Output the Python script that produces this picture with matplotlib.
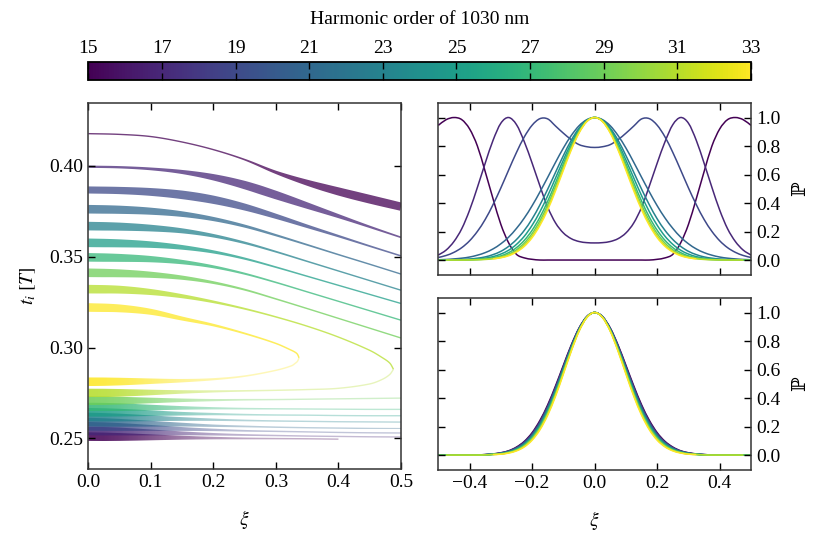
import numpy as np
import matplotlib
matplotlib.use("Agg")
import matplotlib.pyplot as plt
from matplotlib import colors
from matplotlib.patches import Polygon, PathPatch
from matplotlib.path import Path
from matplotlib.colorbar import ColorbarBase

plt.rcParams['font.family'] = ['Liberation Serif', 'DejaVu Serif']
plt.rcParams['mathtext.fontset'] = 'stix'
plt.rcParams['font.size'] = 14

harmonics = [15, 17, 19, 21, 23, 25, 27, 29, 31, 33]

# xi grid of the probability curves (right panels), mirrored for xi < 0
xi_p = [0.0, 0.025, 0.05, 0.075, 0.1, 0.125, 0.15, 0.175, 0.2, 0.225, 0.25,
        0.275, 0.3, 0.325, 0.35, 0.375, 0.4, 0.425, 0.45, 0.475, 0.5]

# long trajectories, probability (top right)
p_long_15 = [0, 0, 0, 0, 0, 0, 0, 0, 0.005, 0.015, 0.04, 0.12, 0.25, 0.43, 0.62, 0.80, 0.92, 0.985, 1.0, 0.985, 0.945]
p_long_17 = [0.12, 0.122, 0.13, 0.15, 0.19, 0.26, 0.37, 0.52, 0.68, 0.83, 0.95, 1.0, 0.96, 0.84, 0.68, 0.51, 0.35, 0.22, 0.13, 0.07, 0.035]
p_long_19 = [0.79, 0.795, 0.81, 0.845, 0.89, 0.94, 0.99, 0.992, 0.946, 0.864, 0.755, 0.632, 0.506, 0.389, 0.285, 0.201, 0.135, 0.087, 0.054, 0.032, 0.018]
p_long_21 = [1.0, 0.985, 0.942, 0.873, 0.786, 0.686, 0.581, 0.478, 0.381, 0.295, 0.222, 0.161, 0.114, 0.078, 0.052, 0.034, 0.021, 0.013, 0.008, 0.004, 0.002]
p_long_23 = [1.0, 0.981, 0.925, 0.840, 0.733, 0.616, 0.498, 0.387, 0.289, 0.208, 0.144, 0.096, 0.061, 0.038, 0.022, 0.013, 0.007, 0.004, 0.002, 0.001, 0]
p_long_25 = [1.0, 0.978, 0.916, 0.820, 0.702, 0.576, 0.452, 0.339, 0.244, 0.167, 0.110, 0.069, 0.042, 0.024, 0.013, 0.007, 0.004, 0.002, 0.001, 0, 0]
p_long_27 = [1.0, 0.976, 0.907, 0.802, 0.676, 0.542, 0.414, 0.301, 0.209, 0.138, 0.087, 0.052, 0.029, 0.016, 0.008, 0.004, 0.002, 0.001, 0, 0, 0]
p_long_29 = [1.0, 0.974, 0.900, 0.789, 0.657, 0.518, 0.388, 0.276, 0.186, 0.119, 0.072, 0.041, 0.023, 0.012, 0.006, 0.003, 0.001, 0, 0, 0, 0]
p_long_31 = [1.0, 0.973, 0.895, 0.779, 0.641, 0.499, 0.367, 0.256, 0.169, 0.105, 0.062, 0.035, 0.018, 0.009, 0.004, 0.002, 0.001, 0, 0, 0]
p_long_33 = [1.0, 0.972, 0.891, 0.771, 0.630, 0.486, 0.353, 0.243, 0.157, 0.096, 0.056, 0.030, 0.016, 0.008]

# short trajectories, probability (bottom right)
p_short_15 = [1.0, 0.972, 0.891, 0.771, 0.630, 0.486, 0.353, 0.243, 0.157, 0.096, 0.056, 0.030, 0.016, 0.008, 0.003, 0.001, 0]
p_short_17 = [1.0, 0.971, 0.888, 0.766, 0.623, 0.478, 0.345, 0.236, 0.151, 0.092, 0.053, 0.028, 0.015, 0.007, 0.003, 0.001, 0, 0, 0, 0, 0]
p_short_19 = [1.0, 0.970, 0.886, 0.761, 0.616, 0.470, 0.337, 0.228, 0.145, 0.087, 0.050, 0.026, 0.014, 0.007, 0.003, 0.001, 0, 0, 0, 0, 0]
p_short_21 = [1.0, 0.970, 0.883, 0.756, 0.609, 0.462, 0.329, 0.221, 0.139, 0.083, 0.047, 0.025, 0.013, 0.006, 0.002, 0.001, 0, 0, 0, 0, 0]
p_short_23 = [1.0, 0.969, 0.881, 0.751, 0.602, 0.454, 0.321, 0.214, 0.133, 0.079, 0.044, 0.023, 0.012, 0.006, 0.002, 0.001, 0, 0, 0, 0, 0]
p_short_25 = [1.0, 0.968, 0.878, 0.747, 0.596, 0.445, 0.312, 0.206, 0.128, 0.074, 0.041, 0.021, 0.010, 0.005, 0.002, 0, 0, 0, 0, 0, 0]
p_short_27 = [1.0, 0.967, 0.876, 0.742, 0.589, 0.437, 0.304, 0.199, 0.122, 0.070, 0.038, 0.019, 0.009, 0.005, 0.002, 0, 0, 0, 0, 0, 0]
p_short_29 = [1.0, 0.967, 0.873, 0.737, 0.582, 0.429, 0.296, 0.192, 0.116, 0.066, 0.035, 0.018, 0.008, 0.004, 0.001, 0, 0, 0, 0, 0, 0]
p_short_31 = [1.0, 0.966, 0.871, 0.732, 0.575, 0.421, 0.288, 0.184, 0.110, 0.061, 0.032, 0.016, 0.007, 0.004, 0.001, 0, 0, 0, 0, 0]
p_short_33 = [1.0, 0.965, 0.868, 0.727, 0.568, 0.413, 0.280, 0.177, 0.104, 0.057, 0.029, 0.014, 0.006, 0.003]

# ionisation times t_i [T] vs xi (left panel)
xi_t = [0.0, 0.05, 0.1, 0.15, 0.2, 0.25, 0.3, 0.35, 0.4, 0.45, 0.5]
t_long_15 = [0.4178, 0.4174, 0.4162, 0.4132, 0.4090, 0.4035, 0.3965, 0.3908, 0.3860, 0.3817, 0.3776]
t_long_17 = [0.3996, 0.3993, 0.3984, 0.3967, 0.3938, 0.3895, 0.3840, 0.3782, 0.3724, 0.3665, 0.3607]
t_long_19 = [0.3868, 0.3865, 0.3857, 0.3841, 0.3814, 0.3774, 0.3723, 0.3668, 0.3614, 0.3559, 0.3505]
t_long_21 = [0.3762, 0.3759, 0.3751, 0.3735, 0.3708, 0.3669, 0.3619, 0.3566, 0.3512, 0.3459, 0.3405]
t_long_23 = [0.3669, 0.3666, 0.3658, 0.3643, 0.3616, 0.3577, 0.3528, 0.3475, 0.3422, 0.3369, 0.3316]
t_long_25 = [0.3577, 0.3574, 0.3567, 0.3552, 0.3527, 0.3490, 0.3443, 0.3393, 0.3343, 0.3293, 0.3243]
t_long_27 = [0.3497, 0.3494, 0.3487, 0.3471, 0.3445, 0.3407, 0.3359, 0.3307, 0.3255, 0.3203, 0.3151]
t_long_29 = [0.3412, 0.3409, 0.3401, 0.3385, 0.3358, 0.3319, 0.3268, 0.3215, 0.3161, 0.3107, 0.3053]
xi_t_31 = [0.0, 0.05, 0.1, 0.15, 0.2, 0.25, 0.3, 0.35, 0.4, 0.45, 0.47, 0.482, 0.488]
t_long_31 = [0.3322, 0.3319, 0.3306, 0.3283, 0.3252, 0.3214, 0.3169, 0.3118, 0.3058, 0.2985, 0.2945, 0.2915, 0.2881]
xi_t_33 = [0.0, 0.05, 0.1, 0.15, 0.2, 0.25, 0.3, 0.325, 0.331, 0.3343, 0.337]
t_long_33 = [0.3221, 0.3216, 0.3197, 0.3160, 0.3124, 0.3078, 0.3023, 0.2985, 0.2974, 0.2964, 0.2944]

t_short_15 = [0.2510, 0.2508, 0.2506, 0.2504, 0.2502, 0.2500, 0.2499, 0.2498, 0.2496]
t_short_17 = [0.2541, 0.2538, 0.2533, 0.2528, 0.2523, 0.2519, 0.2516, 0.2513, 0.2511, 0.2509, 0.2508]
t_short_19 = [0.2567, 0.2563, 0.2558, 0.2552, 0.2547, 0.2542, 0.2539, 0.2536, 0.2533, 0.2531, 0.2530]
t_short_21 = [0.2590, 0.2586, 0.2581, 0.2576, 0.2570, 0.2566, 0.2562, 0.2559, 0.2557, 0.2555, 0.2554]
t_short_23 = [0.2618, 0.2615, 0.2611, 0.2607, 0.2603, 0.2599, 0.2596, 0.2594, 0.2592, 0.2591, 0.2590]
t_short_25 = [0.2644, 0.2642, 0.2639, 0.2636, 0.2634, 0.2631, 0.2629, 0.2628, 0.2626, 0.2625, 0.2625]
t_short_27 = [0.2673, 0.2672, 0.2670, 0.2668, 0.2666, 0.2664, 0.2663, 0.2662, 0.2661, 0.2660, 0.2660]
t_short_29 = [0.2708, 0.2708, 0.2709, 0.2710, 0.2711, 0.2713, 0.2714, 0.2716, 0.2718, 0.2720, 0.2722]
t_short_31 = [0.2750, 0.2751, 0.2753, 0.2756, 0.2759, 0.2762, 0.2765, 0.2769, 0.2776, 0.2800, 0.2825, 0.2852, 0.2881]
t_short_33 = [0.2812, 0.2813, 0.2815, 0.2818, 0.2826, 0.2843, 0.2875, 0.2900, 0.2914, 0.2924, 0.2944]

p_long = [p_long_15, p_long_17, p_long_19, p_long_21, p_long_23,
          p_long_25, p_long_27, p_long_29, p_long_31, p_long_33]
p_short = [p_short_15, p_short_17, p_short_19, p_short_21, p_short_23,
           p_short_25, p_short_27, p_short_29, p_short_31, p_short_33]
t_long = [t_long_15, t_long_17, t_long_19, t_long_21, t_long_23,
          t_long_25, t_long_27, t_long_29, t_long_31, t_long_33]
t_short = [t_short_15, t_short_17, t_short_19, t_short_21, t_short_23,
           t_short_25, t_short_27, t_short_29, t_short_31, t_short_33]
xi_long = [xi_t] * 8 + [xi_t_31, xi_t_33]
xi_short = [xi_t[:9]] + [xi_t] * 7 + [xi_t_31, xi_t_33]

norm = colors.Normalize(15, 33)
cmap = plt.get_cmap('viridis')
DPI = 100


def bezier_ctrl(pts):
    # Catmull-Rom tangents -> cubic Bezier control points per segment
    ext = np.vstack([pts[0], pts, pts[-1]])
    out = []
    for i in range(len(pts) - 1):
        p0, p1, p2, p3 = ext[i], ext[i + 1], ext[i + 2], ext[i + 3]
        out.append((p1, p1 + (p2 - p0) / 6.0, p2 - (p3 - p1) / 6.0, p2))
    return out


def chord_ctrl(pts):
    # same idea, tangents scaled by chord length (uneven point spacing)
    d = np.hypot(*np.diff(pts, axis=0).T)
    m = np.empty_like(pts)
    m[0] = (pts[1] - pts[0]) / d[0]
    m[-1] = (pts[-1] - pts[-2]) / d[-1]
    m[1:-1] = (pts[2:] - pts[:-2]) / (d[:-1] + d[1:])[:, None]
    return [(pts[i], pts[i] + m[i] * d[i] / 3.0,
             pts[i + 1] - m[i + 1] * d[i] / 3.0, pts[i + 1])
            for i in range(len(pts) - 1)]


def band(ax, xs, ts, ps, color, fade):
    # trajectory drawn as a band whose width (in points) follows P
    s = np.linspace(0, 1, 12)[:-1, None]
    node = ax.transData.transform(np.column_stack([xs, ts]))
    disp = []
    for a, b, c, d in chord_ctrl(node):
        disp.append((1 - s) ** 3 * a + 3 * (1 - s) ** 2 * s * b
                    + 3 * (1 - s) * s ** 2 * c + s ** 3 * d)
    disp.append(node[-1:])
    disp = np.vstack(disp)
    xd = ax.transData.inverted().transform(disp)[:, 0]
    p = np.interp(xd, xi_p[:len(ps)], ps)
    half = 0.5 * (1.0 + 5.2 * p) * DPI / 72.0

    dd = np.gradient(disp, axis=0)
    dd /= np.hypot(dd[:, 0], dd[:, 1])[:, None]
    nrm = np.column_stack([-dd[:, 1], dd[:, 0]])
    upper = disp + nrm * half[:, None]
    lower = disp - nrm * half[:, None]
    poly = ax.transData.inverted().transform(np.vstack([upper, lower[::-1]]))

    if not fade:
        ax.add_patch(Polygon(poly, closed=True, fc=color, ec='none', alpha=0.75))
        return
    patch = Polygon(poly, closed=True, fc='none', ec='none')
    ax.add_patch(patch)
    xg = np.linspace(poly[:, 0].min(), poly[:, 0].max(), 300)
    rgba = np.tile(colors.to_rgba(color), (1, len(xg), 1))
    rgba[0, :, 3] = 0.32 + 0.55 * np.interp(xg, xi_p[:len(ps)], ps)
    im = ax.imshow(rgba, extent=[xg[0], xg[-1], poly[:, 1].min(), poly[:, 1].max()],
                   aspect='auto', origin='lower', interpolation='bilinear')
    im.set_clip_path(patch)


def smooth_line(ax, x, y, color):
    # Bezier curve through the read points
    segs = bezier_ctrl(np.column_stack([x, y]))
    verts = [segs[0][0]]
    codes = [Path.MOVETO]
    for a, b, c, d in segs:
        verts += [b, c, d]
        codes += [Path.CURVE4] * 3
    ax.add_patch(PathPatch(Path(verts, codes), fill=False, edgecolor=color, lw=1.1))


fig = plt.figure(figsize=(8.17, 5.39), dpi=DPI)
ax_l = fig.add_axes([0.1081, 0.1293, 0.3827, 0.679])
ax_t = fig.add_axes([0.5365, 0.4898, 0.3827, 0.3186])
ax_b = fig.add_axes([0.5365, 0.128, 0.3827, 0.3186])
cax = fig.add_axes([0.1081, 0.8516, 0.8111, 0.0328])

ax_l.set_xlim(0, 0.5)
ax_l.set_ylim(0.233, 0.4345)

for k, h in enumerate(harmonics):
    c = cmap(norm(h))
    band(ax_l, xi_long[k], t_long[k], p_long[k], c, False)
    band(ax_l, xi_short[k], t_short[k], p_short[k], c, True)

    for ax, p in ((ax_t, p_long[k]), (ax_b, p_short[k])):
        x = np.array(xi_p[:len(p)])
        y = np.array(p)
        smooth_line(ax, np.concatenate([-x[::-1], x[1:]]),
                    np.concatenate([y[::-1], y[1:]]), c)

ax_l.set_xlim(0, 0.5)
ax_l.set_ylim(0.233, 0.4345)
ax_l.set_xticks([0.0, 0.1, 0.2, 0.3, 0.4, 0.5])
ax_l.set_yticks([0.25, 0.30, 0.35, 0.40])
ax_l.set_xlabel(r'$\xi$', labelpad=12)
ax_l.set_ylabel(r'$t_i\;[T]$', labelpad=8)

for ax in (ax_t, ax_b):
    ax.set_xlim(-0.5, 0.5)
    ax.set_ylim(-0.105, 1.1)
    ax.set_xticks([-0.4, -0.2, 0.0, 0.2, 0.4])
    ax.set_yticks([0.0, 0.2, 0.4, 0.6, 0.8, 1.0])
    ax.yaxis.set_label_position('right')
    ax.set_ylabel('ℙ', family=['DejaVu Serif', 'DejaVu Sans'], labelpad=8)
    ax.tick_params(labelleft=False, labelright=True)
ax_t.tick_params(labelbottom=False)
ax_b.set_xlabel(r'$\xi$', labelpad=12)

for ax in (ax_l, ax_t, ax_b):
    ax.tick_params(direction='in', top=True, right=True, length=5, width=1)
    for sp in ax.spines.values():
        sp.set_linewidth(1.1)
        sp.set_color('#333333')

cb = ColorbarBase(cax, cmap=cmap, norm=norm, orientation='horizontal',
                  ticks=harmonics)
cax.xaxis.set_ticks_position('top')
cax.xaxis.set_label_position('top')
cax.tick_params(direction='in', top=True, bottom=True, length=5, width=1)
cax.set_xlabel('Harmonic order of 1030 nm', labelpad=12)
cb.outline.set_linewidth(1.3)

fig.savefig('out.png', dpi=DPI)
